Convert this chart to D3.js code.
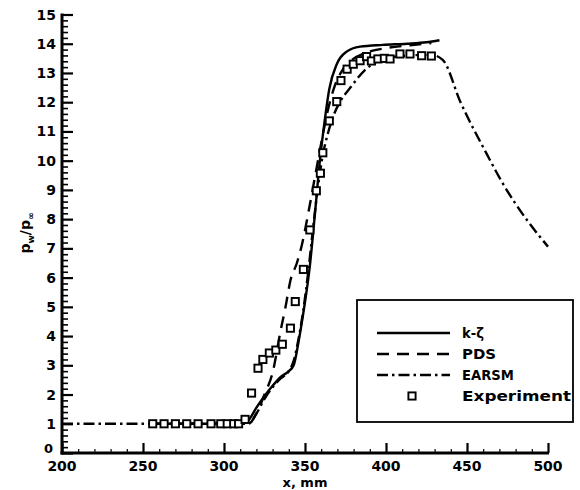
<!DOCTYPE html>
<html>
<head>
<meta charset="utf-8">
<script src="https://cdn.jsdelivr.net/npm/d3@7"></script>
<style>
  html, body { margin: 0; padding: 0; background: #fff; }
  svg { display: block; }
  text { font-family: "DejaVu Sans", sans-serif; font-weight: bold; fill: #000; }
</style>
</head>
<body>
<svg id="chart" width="580" height="490"></svg>
<script>
// Wall pressure ratio along the surface, x in mm
const xTicks = [200, 250, 300, 350, 400, 450, 500];
const yTicks = d3.range(0, 16);

const kzX = [255, 290, 310, 315, 320, 325, 330, 335, 340, 343, 346, 349, 353, 356, 359, 362, 365, 369.6, 375.7, 384, 398, 413, 425, 433];
const kzY = [1, 1, 1.0, 1.12, 1.55, 1.95, 2.3, 2.6, 2.8, 3.0, 3.8, 4.8, 6.4, 8.1, 9.9, 11.3, 12.45, 13.3, 13.73, 13.9, 13.96, 14.0, 14.05, 14.12];

const pdsX = [255, 290, 315, 320, 325, 330, 335, 338, 341, 345, 348, 352, 356, 360, 364, 368, 372, 378, 388, 400, 415, 428];
const pdsY = [1, 1, 1.0, 1.35, 2.0, 2.75, 4.2, 5.0, 5.9, 6.5, 7.1, 8.2, 9.4, 10.6, 11.7, 12.5, 13.0, 13.4, 13.7, 13.85, 13.95, 14.02];

const earsmX = [200, 260, 315, 320, 325, 330, 335, 340, 343, 346, 349, 352, 355, 358, 361, 364, 368, 372, 378, 387, 395, 405, 415, 428, 435, 446, 462, 472, 487, 500];
const earsmY = [1, 1, 1.0, 1.35, 1.85, 2.25, 2.55, 2.8, 3.15, 3.9, 4.9, 6.2, 7.7, 9.1, 10.2, 10.9, 11.6, 12.05, 12.5, 13.1, 13.4, 13.55, 13.6, 13.62, 13.45, 12.0, 10.25, 9.23, 7.97, 7.06];

const expX = [256, 263, 270, 277, 284, 292, 298, 302, 306, 309, 313, 317, 321, 324, 328, 332, 336, 341, 344, 349, 353, 357, 359.5, 361, 365, 369.6, 372.2, 376, 379.8, 384, 388, 391, 395, 399, 402.5, 408.6, 414.8, 422, 428];
const expY = [1, 1, 1, 1, 1, 1, 1, 1, 1, 1, 1.15, 2.05, 2.9, 3.2, 3.42, 3.52, 3.72, 4.27, 5.18, 6.28, 7.63, 8.97, 9.57, 10.27, 11.36, 12.02, 12.74, 13.13, 13.3, 13.42, 13.56, 13.41, 13.48, 13.5, 13.48, 13.65, 13.65, 13.59, 13.58];

const legendNames = ["k-ζ", "PDS", "EARSM", "Experiment"];

const svg = d3.select("#chart");
const x = d3.scaleLinear().domain([200, 500]).range([62, 548]);
const y = d3.scaleLinear().domain([0, 15]).range([453, 14.5]);

const dashes = { solid: null, dash: "12,8", dashdot: "11,4,2.5,4" };

// axes
const yAxis = d3.axisRight(y).tickValues(yTicks).tickSize(11).tickFormat("");
const yMinor = d3.axisRight(y).tickValues(d3.range(0, 15.01, 0.2).filter(v => Math.abs(v - Math.round(v)) > 1e-6)).tickSize(6).tickFormat("");
const xAxis = d3.axisTop(x).tickValues(xTicks).tickSize(10).tickFormat("");
const xMinor = d3.axisTop(x).tickValues(d3.range(210, 500, 10).filter(v => v % 50 !== 0)).tickSize(4).tickFormat("");

function styleAxis(g, w) {
  g.select(".domain").remove();
  g.selectAll(".tick line").attr("stroke", "#000").attr("stroke-width", w);
}
svg.append("g").attr("transform", `translate(${x(200)},0)`).call(yAxis).call(g => styleAxis(g, 2.2));
svg.append("g").attr("transform", `translate(${x(200)},0)`).call(yMinor).call(g => styleAxis(g, 1.6));
svg.append("g").attr("transform", `translate(0,${y(0)})`).call(xAxis).call(g => styleAxis(g, 2.2));
svg.append("g").attr("transform", `translate(0,${y(0)})`).call(xMinor).call(g => styleAxis(g, 1.2));

// axis lines
svg.append("line").attr("x1", x(200)).attr("x2", x(200)).attr("y1", y(15) - 1).attr("y2", y(0) + 1.5)
  .attr("stroke", "#000").attr("stroke-width", 3);
svg.append("line").attr("x1", x(200) - 1.5).attr("x2", x(500) + 1).attr("y1", y(0)).attr("y2", y(0))
  .attr("stroke", "#000").attr("stroke-width", 3);

// tick labels; the zero label sits just above the first x label
svg.append("g").selectAll("text").data(yTicks).join("text")
  .attr("x", d => d === 0 ? 53 : 56).attr("y", d => d === 0 ? y(d) - 5 : y(d))
  .attr("dy", "0.36em").attr("text-anchor", "end").attr("font-size", d => d === 0 ? 13 : 14)
  .text(d => d);
svg.append("g").selectAll("text").data(xTicks).join("text")
  .attr("x", d => x(d)).attr("y", 471).attr("text-anchor", "middle").attr("font-size", 14)
  .text(d => d);

// axis titles
svg.append("text").attr("x", x(350)).attr("y", 487).attr("text-anchor", "middle").attr("font-size", 13)
  .text("x, mm");
const yl = svg.append("text").attr("transform", "translate(30,233) rotate(-90)")
  .attr("text-anchor", "middle").attr("font-size", 14);
yl.append("tspan").text("p");
yl.append("tspan").attr("font-size", 9).attr("dy", 4).text("w");
yl.append("tspan").attr("dy", -4).text("/p");
yl.append("tspan").attr("font-size", 9).attr("dy", 4).text("∞");

// curves
const line = d3.line().x(d => x(d[0])).y(d => y(d[1])).curve(d3.curveMonotoneX);
function drawCurve(xs, ys, dash) {
  svg.append("path").datum(xs.map((v, i) => [v, ys[i]]))
    .attr("d", line).attr("fill", "none").attr("stroke", "#000")
    .attr("stroke-width", 2.4).attr("stroke-dasharray", dash);
}
drawCurve(earsmX, earsmY, dashes.dashdot);
drawCurve(pdsX, pdsY, dashes.dash);
drawCurve(kzX, kzY, dashes.solid);

// experiment markers
svg.append("g").selectAll("rect").data(expX.map((v, i) => [v, expY[i]])).join("rect")
  .attr("x", d => x(d[0]) - 3.6).attr("y", d => y(d[1]) - 3.6)
  .attr("width", 7.2).attr("height", 7.2)
  .attr("fill", "#fff").attr("stroke", "#000").attr("stroke-width", 1.9);

// legend
const lg = svg.append("g");
lg.append("rect").attr("x", 357).attr("y", 300).attr("width", 216).attr("height", 122)
  .attr("fill", "#fff").attr("stroke", "#000").attr("stroke-width", 1.8);
const rowY = [333, 354, 375, 396];
const rowDash = [dashes.solid, dashes.dash, dashes.dashdot];
rowDash.forEach((dsh, i) => {
  lg.append("line").attr("x1", 377).attr("x2", 450).attr("y1", rowY[i]).attr("y2", rowY[i])
    .attr("stroke", "#000").attr("stroke-width", 2.4).attr("stroke-dasharray", dsh);
});
lg.append("rect").attr("x", 412 - 3.6).attr("y", rowY[3] - 3.6).attr("width", 7.2).attr("height", 7.2)
  .attr("fill", "#fff").attr("stroke", "#000").attr("stroke-width", 1.9);
const labelW = [22, 34, 52, 109];
legendNames.forEach((name, i) => {
  lg.append("text").attr("x", 462).attr("y", rowY[i]).attr("dy", "0.36em").attr("font-size", 13.5)
    .attr("textLength", labelW[i]).attr("lengthAdjust", "spacingAndGlyphs").text(name);
});
</script>
</body>
</html>
